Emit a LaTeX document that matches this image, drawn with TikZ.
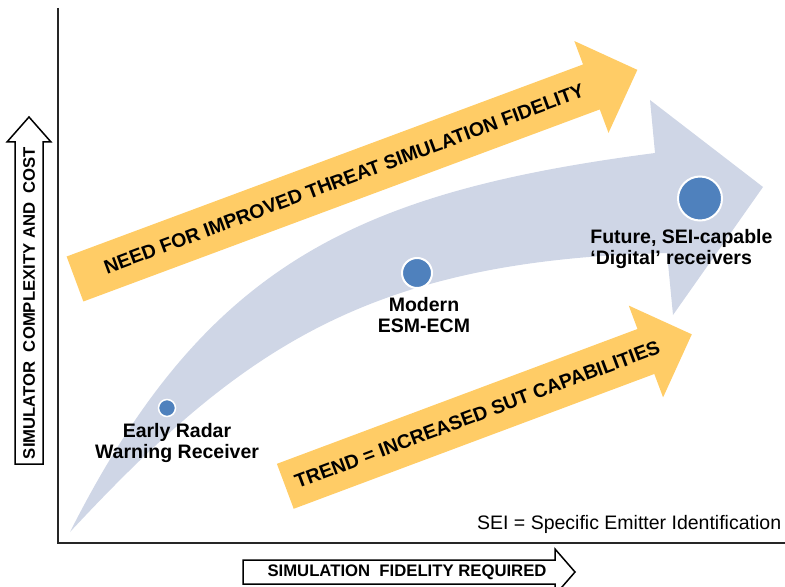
\documentclass[tikz,border=0pt]{standalone}
\usepackage{fontspec}
\setmainfont{Liberation Sans}
\usepackage{tikz}
\definecolor{trendgold}{RGB}{255,204,102}
\definecolor{swooshblue}{RGB}{207,214,230}
\definecolor{dotblue}{RGB}{79,129,189}
\tikzset{
  axisline/.style={line width=1pt, black!85},
  axisarrow/.style={draw=black, line width=0.75pt, fill=white},
  axistext/.style={font=\fontsize{8.35pt}{10pt}\selectfont\bfseries, inner sep=0pt},
  bandtext/.style={font=\fontsize{9.75pt}{10.5pt}\selectfont\bfseries, inner sep=0pt},
  stagetext/.style={font=\fontsize{9.75pt}{10.5pt}\selectfont\bfseries, inner sep=0pt, align=center},
  stagedot/.style={circle, fill=dotblue, draw=white, inner sep=0pt},
}
\newcommand{\goldarrow}[2]{\fill[trendgold] (0,-24) -- (#1,-24) -- (#1,-49) -- (#2,0) -- (#1,49) -- (#1,24) -- (0,24) -- cycle;}

\begin{document}
\begin{tikzpicture}[x=0.5pt, y=-0.5pt]
\useasboundingbox (0,0) rectangle (785,587);
\clip (0,0) rectangle (785,587);

% swoosh
\fill[swooshblue] (70,532) .. controls (205,265) and (355,192) .. (655,153)
  -- (650,100) -- (763,187) -- (673,315) -- (667,253)
  .. controls (367,260) and (240,349.5) .. (70,532) -- cycle;

% trend arrows
\begin{scope}[shift={(75,279)}, rotate=20.4]
\goldarrow{551}{600}
\node[bandtext, rotate=20.4] (need) at (287,0) {NEED FOR IMPROVED THREAT SIMULATION FIDELITY};
\end{scope}
\begin{scope}[shift={(285.3,486.3)}, rotate=20.5]
\goldarrow{385}{434}
\node[bandtext, rotate=20.5] (trend) at (205,0) {TREND = INCREASED SUT CAPABILITIES};
\end{scope}

% stages
\node[stagedot, minimum size=8.5pt, line width=0.75pt] (early) at (167,408) {};
\node[stagedot, minimum size=15pt, line width=1pt] (modern) at (417,273) {};
\node[stagedot, minimum size=22pt, line width=1pt] (future) at (700,198.5) {};
\node[stagetext, anchor=north] (earlytxt) at (177,422.5) {Early Radar\\Warning Receiver};
\node[stagetext, anchor=north] (moderntxt) at (424,296.5) {Modern\\ESM-ECM};
\node[stagetext, anchor=north west, align=left] (futuretxt) at (590,228.5) {Future, SEI-capable\\`Digital' receivers};
\node[font=\fontsize{9.75pt}{10.5pt}\selectfont, anchor=base west, inner sep=0pt] (sei) at (476.7,529.3) {SEI = Specific Emitter Identification};

% axes
\draw[axisline] (58,8) -- (58,543) -- (785,543);
\draw[axisarrow] (15,464) -- (15,142) -- (7,142) -- (29,117) -- (51,142) -- (43,142) -- (43,464) -- cycle;
\node[axistext, rotate=90] (ylabel) at (29,303) {SIMULATOR\ \ COMPLEXITY AND\ \ COST};
\draw[axisarrow] (243,560) -- (555,560) -- (555,549) -- (575,572) -- (555,595) -- (555,584) -- (243,584) -- cycle;
\node[axistext] (xlabel) at (407,572) {SIMULATION\ \ FIDELITY REQUIRED};
\end{tikzpicture}
\end{document}
